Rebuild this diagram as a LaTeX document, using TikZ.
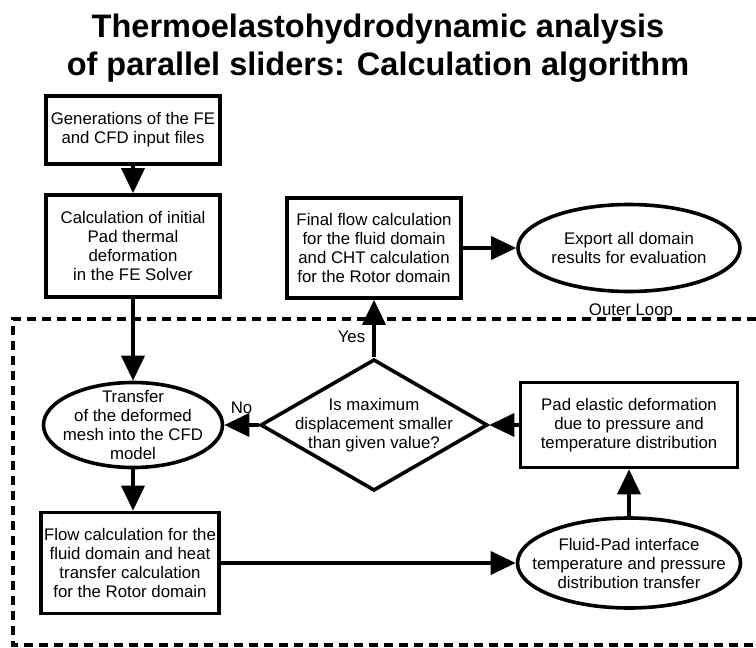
\documentclass[tikz,border=0pt]{standalone}
\usepackage{fontspec}
\setmainfont{Liberation Sans}
\usetikzlibrary{positioning,shapes.geometric,arrows.meta}

\begin{document}
\begin{tikzpicture}[x=1pt,y=1pt,
    font=\fontsize{16.8}{19}\selectfont,
    box/.style={draw,rectangle,line width=3.6pt,align=center,inner sep=0pt},
    blob/.style={draw,ellipse,line width=3.6pt,align=center,inner sep=-25pt},
    query/.style={draw,diamond,line width=3.6pt,align=center,inner sep=-20pt},
    flow/.style={-{Triangle[length=25pt,width=23pt]},line width=3.6pt},
    outerloop/.style={line width=4pt,dash pattern=on 9pt off 6pt}]
  \useasboundingbox (0,0) rectangle (756,-648);

  % title
  \node[anchor=north,align=center,font=\fontsize{32.5}{38}\selectfont\bfseries] (title) at (378,-10)
    {Thermoelastohydrodynamic analysis\\of parallel sliders: Calculation algorithm};

  % preparation
  \node[box,minimum width=174pt,minimum height=68pt] (gen) at (133,-130)
    {Generations of the FE\\and CFD input files};
  \node[box,minimum width=174pt,minimum height=102pt,below=27.4pt of gen] (initdef)
    {Calculation of initial\\Pad thermal\\deformation\\in the FE Solver};

  % outer loop
  \draw[outerloop] (756,-319) -- (13,-319) -- (13,-645) -- (756,-645);
  \node[anchor=base] (looplabel) at (631,-315) {Outer Loop};

  \node[blob,minimum width=179pt,minimum height=85pt] (transfer) at (133,-425)
    {Transfer\\of the deformed\\mesh into the CFD\\model};
  \node[box,minimum width=178pt,minimum height=101pt] (flowcalc) at (130,-563)
    {Flow calculation for the\\fluid domain and heat\\transfer calculation\\for the Rotor domain};
  \node[blob,minimum width=223pt,minimum height=90pt] (fluidpad) at (629,-563)
    {Fluid-Pad interface\\temperature and pressure\\distribution transfer};
  \node[box,minimum width=217pt,minimum height=85pt] (padelastic) at (629,-425)
    {Pad elastic deformation\\due to pressure and\\temperature distribution};
  \node[query,minimum width=227pt,minimum height=106pt] (check) at (374,-425)
    {Is maximum\\displacement smaller\\than given value?};

  % final step
  \node[box,minimum width=174pt,minimum height=100pt] (final) at (374,-248)
    {Final flow calculation\\for the fluid domain\\and CHT calculation\\for the Rotor domain};
  \node[blob,minimum width=222pt,minimum height=87pt] (export) at (629,-248)
    {Export all domain\\results for evaluation};

  \path[flow,draw]
  (gen) edge (initdef)
  (initdef) edge (transfer)
  (transfer) edge (transfer |- flowcalc.north)
  (flowcalc) edge (fluidpad)
  (fluidpad) edge (padelastic)
  (padelastic) edge (check)
  (check) edge node[above=10pt,inner sep=0pt]{No} (transfer)
  (check) edge node[left=7pt,pos=0.35,inner sep=0pt]{Yes} (final)
  (final) edge (export);
\end{tikzpicture}
\end{document}
